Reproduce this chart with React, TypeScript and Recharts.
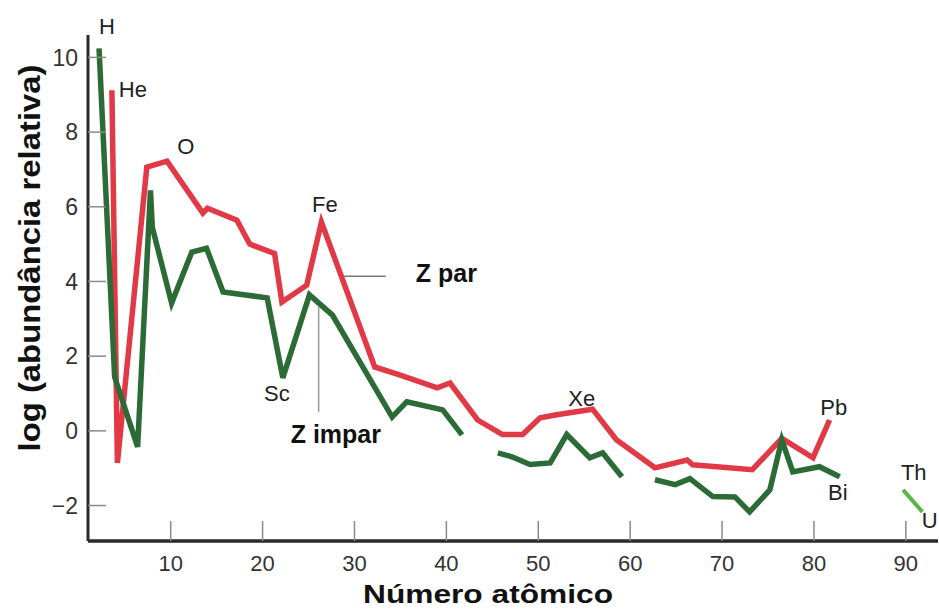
import React from "react"
import {
  LineChart,
  Line,
  XAxis,
  YAxis,
  ReferenceDot,
  ReferenceLine,
  Label,
} from "recharts"

// log relative abundance vs atomic number
// even Z (red)
const zPar = [
  { z: 3.6, v: 9.12 }, { z: 4.2, v: -0.86 }, { z: 7.4, v: 7.06 }, { z: 9.6, v: 7.22 },
  { z: 13.5, v: 5.83 }, { z: 14.0, v: 5.96 }, { z: 17.2, v: 5.64 }, { z: 18.6, v: 5.0 },
  { z: 21.3, v: 4.75 }, { z: 22.1, v: 3.45 }, { z: 24.8, v: 3.9 }, { z: 26.4, v: 5.59 },
  { z: 32.2, v: 1.71 }, { z: 34.9, v: 1.5 }, { z: 39.0, v: 1.15 }, { z: 40.4, v: 1.28 },
  { z: 43.4, v: 0.29 }, { z: 46.1, v: -0.1 }, { z: 48.3, v: -0.1 }, { z: 50.2, v: 0.35 },
  { z: 52.0, v: 0.43 }, { z: 55.9, v: 0.58 }, { z: 58.5, v: -0.24 }, { z: 62.7, v: -0.99 },
  { z: 66.2, v: -0.78 }, { z: 66.8, v: -0.91 }, { z: 73.3, v: -1.04 }, { z: 76.5, v: -0.2 },
  { z: 79.9, v: -0.72 }, { z: 81.7, v: 0.29 },
]

// odd Z (green), broken in pieces as in the original figure
const zImpar1 = [
  { z: 2.2, v: 10.24 }, { z: 3.9, v: 1.44 }, { z: 6.4, v: -0.43 }, { z: 7.8, v: 6.44 },
  { z: 8.0, v: 5.45 }, { z: 10.1, v: 3.42 }, { z: 12.3, v: 4.79 }, { z: 13.9, v: 4.89 },
  { z: 15.7, v: 3.72 }, { z: 20.5, v: 3.56 }, { z: 22.2, v: 1.42 }, { z: 25.1, v: 3.64 },
  { z: 27.6, v: 3.1 }, { z: 34.1, v: 0.37 }, { z: 35.7, v: 0.78 }, { z: 39.6, v: 0.56 },
  { z: 41.7, v: -0.11 },
]
const zImpar2 = [
  { z: 45.6, v: -0.59 }, { z: 47.2, v: -0.7 }, { z: 49.1, v: -0.9 }, { z: 51.3, v: -0.86 },
  { z: 53.1, v: -0.1 }, { z: 55.6, v: -0.72 }, { z: 57.0, v: -0.59 }, { z: 59.1, v: -1.23 },
]
const zImpar3 = [
  { z: 62.7, v: -1.31 }, { z: 64.9, v: -1.44 }, { z: 66.5, v: -1.28 }, { z: 69.0, v: -1.76 },
  { z: 71.4, v: -1.77 }, { z: 73.0, v: -2.17 }, { z: 75.2, v: -1.58 }, { z: 76.5, v: -0.24 },
  { z: 77.7, v: -1.1 }, { z: 80.6, v: -0.96 }, { z: 82.8, v: -1.23 },
]
const thU = [{ z: 89.7, v: -1.58 }, { z: 91.8, v: -2.17 }]

const xTicks = [10, 20, 30, 40, 50, 60, 70, 80, 90]
const yTicks = [-2, 0, 2, 4, 6, 8, 10]

const elementTags = [
  { name: "H", z: 3.05, v: 10.83 },
  { name: "He", z: 5.88, v: 9.14 },
  { name: "O", z: 11.64, v: 7.62 },
  { name: "Fe", z: 26.77, v: 6.07 },
  { name: "Sc", z: 21.55, v: 1.02 },
  { name: "Xe", z: 54.73, v: 0.88 },
  { name: "Pb", z: 82.15, v: 0.64 },
  { name: "Bi", z: 82.59, v: -1.63 },
  { name: "Th", z: 90.86, v: -1.12 },
  { name: "U", z: 92.6, v: -2.38 },
]

const seriesTags = [
  { name: "Z par", z: 40.0, v: 4.22 },
  { name: "Z impar", z: 27.97, v: -0.08 },
]

const FONT = "'Liberation Sans', Arial, sans-serif"
const RED = "#e13a46"
const GREEN = "#2b6b36"

const fmt = (v: number) => (v < 0 ? "\u2212" + Math.abs(v) : String(v))

const YTick = (props: any) => {
  const { x, y, payload } = props
  return (
    <g>
      <line x1={x} x2={x + 18} y1={y} y2={y} stroke="#8a8a8a" strokeWidth={1.5} />
      <text x={x - 10} y={y} dy="0.36em" textAnchor="end" fontSize={23} fill="#333" fontFamily={FONT}>
        {fmt(payload.value)}
      </text>
    </g>
  )
}

const XTick = (props: any) => {
  const { x, y, payload } = props
  return (
    <g>
      <line x1={x} x2={x} y1={y - 20} y2={y} stroke="#8a8a8a" strokeWidth={1.5} />
      <text x={x} y={y + 22} dy="0.36em" textAnchor="middle" fontSize={22} fill="#333" fontFamily={FONT}>
        {payload.value}
      </text>
    </g>
  )
}

const XTitle = (props: any) => {
  const { viewBox } = props
  return (
    <text
      x={viewBox.x + 400}
      y={viewBox.y + 53}
      dy="0.36em"
      textAnchor="middle"
      fontSize={26}
      fontWeight="bold"
      fill="#111"
      fontFamily={FONT}
      textLength={250}
      lengthAdjust="spacingAndGlyphs"
    >
      Número atômico
    </text>
  )
}

const YTitle = (props: any) => {
  const { viewBox } = props
  const cx = viewBox.x + 2
  const cy = viewBox.y + 223
  return (
    <text
      x={cx}
      y={cy}
      dy="0.36em"
      textAnchor="middle"
      fontSize={29}
      fontWeight="bold"
      fill="#111"
      fontFamily={FONT}
      textLength={387}
      lengthAdjust="spacingAndGlyphs"
      transform={`rotate(-90 ${cx} ${cy})`}
    >
      log (abundância relativa)
    </text>
  )
}

export default function App() {
  return (
    <div style={{ position: "absolute", left: 0, top: 0, background: "#fff" }}>
      <LineChart width={939} height={610} margin={{ top: 35, right: 1, bottom: 0, left: 28 }}>
        <XAxis
          type="number"
          dataKey="z"
          domain={[1, 93.5]}
          ticks={xTicks}
          allowDataOverflow
          height={69}
          tickSize={0}
          tickMargin={0}
          tickLine={false}
          tick={<XTick />}
          axisLine={{ stroke: "#2a2a2a", strokeWidth: 3.5 }}
        >
          <Label content={<XTitle />} />
        </XAxis>
        <YAxis
          type="number"
          dataKey="v"
          domain={[-2.95, 10.6]}
          ticks={yTicks}
          allowDataOverflow
          width={60}
          tickSize={0}
          tickMargin={0}
          tickLine={false}
          tick={<YTick />}
          axisLine={{ stroke: "#2a2a2a", strokeWidth: 3 }}
        >
          <Label content={<YTitle />} />
        </YAxis>

        <ReferenceLine
          segment={[{ x: 28.7, y: 4.14 }, { x: 33.4, y: 4.14 }]}
          stroke="#777"
          strokeWidth={1.5}
        />
        <ReferenceLine
          segment={[{ x: 26.1, y: 3.32 }, { x: 26.1, y: 0.51 }]}
          stroke="#999"
          strokeWidth={1.5}
        />

        <Line data={zPar} dataKey="v" type="linear" stroke={RED} strokeWidth={5.5} dot={false} isAnimationActive={false} />
        <Line data={zImpar1} dataKey="v" type="linear" stroke={GREEN} strokeWidth={5.5} dot={false} isAnimationActive={false} />
        <Line data={zImpar2} dataKey="v" type="linear" stroke={GREEN} strokeWidth={5.5} dot={false} isAnimationActive={false} />
        <Line data={zImpar3} dataKey="v" type="linear" stroke={GREEN} strokeWidth={5.5} dot={false} isAnimationActive={false} />
        <Line data={thU} dataKey="v" type="linear" stroke="#5bb548" strokeWidth={4} dot={false} isAnimationActive={false} />

        {elementTags.map((t) => (
          <ReferenceDot
            key={t.name}
            x={t.z}
            y={t.v}
            r={0}
            fill="none"
            stroke="none"
            ifOverflow="visible"
            label={{ value: t.name, position: "center", fontSize: 22, fill: "#222", fontFamily: FONT }}
          />
        ))}
        {seriesTags.map((t) => (
          <ReferenceDot
            key={t.name}
            x={t.z}
            y={t.v}
            r={0}
            fill="none"
            stroke="none"
            ifOverflow="visible"
            label={{ value: t.name, position: "center", fontSize: 25, fontWeight: "bold", fill: "#111", fontFamily: FONT }}
          />
        ))}
      </LineChart>
    </div>
  )
}
